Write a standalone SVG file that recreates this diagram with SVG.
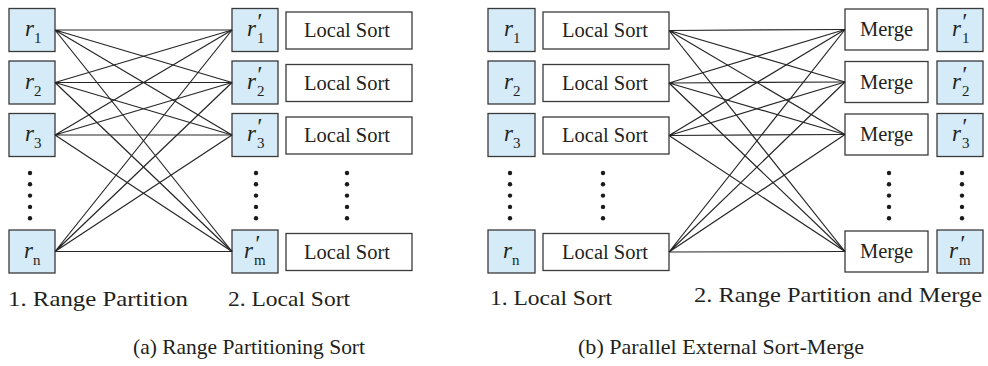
<svg xmlns="http://www.w3.org/2000/svg" width="988" height="366" viewBox="0 0 988 366" font-family="'Liberation Serif', 'Times New Roman', serif">
<style>
.rb{fill:#d5ebf8;stroke:#3a3a3a;stroke-width:1.3}
.wb{fill:#fff;stroke:#3a3a3a;stroke-width:1.3}
.lbl{font-size:20.5px;fill:#231f20}
.it{font-style:italic;font-size:23px;fill:#231f20}
.sub{font-style:normal;font-size:15px}
.cap{font-size:21px;fill:#231f20}
.ln{stroke:#262626;stroke-width:1.2;fill:none}
.dot{fill:#1a1a1a}
</style>
<rect width="988" height="366" fill="#fff"/>

<!-- Panel (a) -->
<g id="a-r1"><rect class="rb" x="9" y="8.5" width="46" height="43"/><text class="it" x="25" y="36">r<tspan class="sub" dy="7">1</tspan></text></g>
<g id="a-r2"><rect class="rb" x="9" y="61" width="46" height="43"/><text class="it" x="25" y="88.5">r<tspan class="sub" dy="7">2</tspan></text></g>
<g id="a-r3"><rect class="rb" x="9" y="113.5" width="46" height="43"/><text class="it" x="25" y="141">r<tspan class="sub" dy="7">3</tspan></text></g>
<g id="a-rn"><rect class="rb" x="9" y="230" width="46" height="43"/><text class="it" x="24" y="257.5">r<tspan class="sub" dy="7">n</tspan></text></g>

<g id="a-rp1"><rect class="rb" x="232" y="8.5" width="46" height="43"/><text class="it" x="247" y="36">r<tspan dy="-7">′</tspan><tspan class="sub" dx="-4" dy="14">1</tspan></text></g>
<g id="a-rp2"><rect class="rb" x="232" y="61" width="46" height="43"/><text class="it" x="247" y="88.5">r<tspan dy="-7">′</tspan><tspan class="sub" dx="-4" dy="14">2</tspan></text></g>
<g id="a-rp3"><rect class="rb" x="232" y="113.5" width="46" height="43"/><text class="it" x="247" y="141">r<tspan dy="-7">′</tspan><tspan class="sub" dx="-4" dy="14">3</tspan></text></g>
<g id="a-rpm"><rect class="rb" x="232" y="230" width="46" height="43"/><text class="it" x="244" y="257.5">r<tspan dx="1" dy="-7">′</tspan><tspan class="sub" dx="-5" dy="14">m</tspan></text></g>

<g id="a-ls1"><rect class="wb" x="286" y="12" width="126" height="37"/><text class="lbl" x="347" y="37" text-anchor="middle">Local Sort</text></g>
<g id="a-ls2"><rect class="wb" x="286" y="64.5" width="126" height="37"/><text class="lbl" x="347" y="89.5" text-anchor="middle">Local Sort</text></g>
<g id="a-ls3"><rect class="wb" x="286" y="117" width="126" height="37"/><text class="lbl" x="347" y="142" text-anchor="middle">Local Sort</text></g>
<g id="a-lsm"><rect class="wb" x="286" y="233.5" width="126" height="37"/><text class="lbl" x="347" y="258.5" text-anchor="middle">Local Sort</text></g>

<g id="a-dots">
<circle class="dot" cx="30" cy="173" r="2.2"/><circle class="dot" cx="30" cy="184.3" r="2.2"/><circle class="dot" cx="30" cy="195.6" r="2.2"/><circle class="dot" cx="30" cy="206.9" r="2.2"/><circle class="dot" cx="30" cy="218.2" r="2.2"/>
<circle class="dot" cx="256" cy="173" r="2.2"/><circle class="dot" cx="256" cy="184.3" r="2.2"/><circle class="dot" cx="256" cy="195.6" r="2.2"/><circle class="dot" cx="256" cy="206.9" r="2.2"/><circle class="dot" cx="256" cy="218.2" r="2.2"/>
<circle class="dot" cx="347" cy="173" r="2.2"/><circle class="dot" cx="347" cy="184.3" r="2.2"/><circle class="dot" cx="347" cy="195.6" r="2.2"/><circle class="dot" cx="347" cy="206.9" r="2.2"/><circle class="dot" cx="347" cy="218.2" r="2.2"/>
</g>

<g id="a-connectors">
<path class="ln" d="M55 30L232 30M55 30L232 82.5M55 30L232 135M55 30L232 251.5"/>
<path class="ln" d="M55 82.5L232 30M55 82.5L232 82.5M55 82.5L232 135M55 82.5L232 251.5"/>
<path class="ln" d="M55 135L232 30M55 135L232 82.5M55 135L232 135M55 135L232 251.5"/>
<path class="ln" d="M55 251.5L232 30M55 251.5L232 82.5M55 251.5L232 135M55 251.5L232 251.5"/>
</g>

<!-- Panel (b) -->
<g id="b-r1"><rect class="rb" x="488" y="8.5" width="47" height="43"/><text class="it" x="504" y="36">r<tspan class="sub" dy="7">1</tspan></text></g>
<g id="b-r2"><rect class="rb" x="488" y="61" width="47" height="43"/><text class="it" x="504" y="88.5">r<tspan class="sub" dy="7">2</tspan></text></g>
<g id="b-r3"><rect class="rb" x="488" y="113.5" width="47" height="43"/><text class="it" x="504" y="141">r<tspan class="sub" dy="7">3</tspan></text></g>
<g id="b-rn"><rect class="rb" x="488" y="230" width="47" height="43"/><text class="it" x="503" y="257.5">r<tspan class="sub" dy="7">n</tspan></text></g>

<g id="b-ls1"><rect class="wb" x="543" y="12" width="126" height="37"/><text class="lbl" x="605" y="37" text-anchor="middle">Local Sort</text></g>
<g id="b-ls2"><rect class="wb" x="543" y="64.5" width="126" height="37"/><text class="lbl" x="605" y="89.5" text-anchor="middle">Local Sort</text></g>
<g id="b-ls3"><rect class="wb" x="543" y="117" width="126" height="37"/><text class="lbl" x="605" y="142" text-anchor="middle">Local Sort</text></g>
<g id="b-lsn"><rect class="wb" x="543" y="233.5" width="126" height="37"/><text class="lbl" x="605" y="258.5" text-anchor="middle">Local Sort</text></g>

<g id="b-m1"><rect class="wb" x="845" y="9" width="83" height="41"/><text class="lbl" x="886.5" y="36" text-anchor="middle">Merge</text></g>
<g id="b-m2"><rect class="wb" x="845" y="61.5" width="83" height="41"/><text class="lbl" x="886.5" y="88.5" text-anchor="middle">Merge</text></g>
<g id="b-m3"><rect class="wb" x="845" y="114" width="83" height="41"/><text class="lbl" x="886.5" y="141" text-anchor="middle">Merge</text></g>
<g id="b-mm"><rect class="wb" x="845" y="231" width="83" height="41"/><text class="lbl" x="886.5" y="258" text-anchor="middle">Merge</text></g>

<g id="b-rp1"><rect class="rb" x="937" y="8.5" width="46" height="43"/><text class="it" x="952" y="36">r<tspan dy="-7">′</tspan><tspan class="sub" dx="-4" dy="14">1</tspan></text></g>
<g id="b-rp2"><rect class="rb" x="937" y="61" width="46" height="43"/><text class="it" x="952" y="88.5">r<tspan dy="-7">′</tspan><tspan class="sub" dx="-4" dy="14">2</tspan></text></g>
<g id="b-rp3"><rect class="rb" x="937" y="113.5" width="46" height="43"/><text class="it" x="952" y="141">r<tspan dy="-7">′</tspan><tspan class="sub" dx="-4" dy="14">3</tspan></text></g>
<g id="b-rpm"><rect class="rb" x="937" y="230" width="46" height="43"/><text class="it" x="949" y="257.5">r<tspan dx="1" dy="-7">′</tspan><tspan class="sub" dx="-5" dy="14">m</tspan></text></g>

<g id="b-dots">
<circle class="dot" cx="510" cy="173" r="2.2"/><circle class="dot" cx="510" cy="184.3" r="2.2"/><circle class="dot" cx="510" cy="195.6" r="2.2"/><circle class="dot" cx="510" cy="206.9" r="2.2"/><circle class="dot" cx="510" cy="218.2" r="2.2"/>
<circle class="dot" cx="603" cy="173" r="2.2"/><circle class="dot" cx="603" cy="184.3" r="2.2"/><circle class="dot" cx="603" cy="195.6" r="2.2"/><circle class="dot" cx="603" cy="206.9" r="2.2"/><circle class="dot" cx="603" cy="218.2" r="2.2"/>
<circle class="dot" cx="889" cy="173" r="2.2"/><circle class="dot" cx="889" cy="184.3" r="2.2"/><circle class="dot" cx="889" cy="195.6" r="2.2"/><circle class="dot" cx="889" cy="206.9" r="2.2"/><circle class="dot" cx="889" cy="218.2" r="2.2"/>
<circle class="dot" cx="962" cy="173" r="2.2"/><circle class="dot" cx="962" cy="184.3" r="2.2"/><circle class="dot" cx="962" cy="195.6" r="2.2"/><circle class="dot" cx="962" cy="206.9" r="2.2"/><circle class="dot" cx="962" cy="218.2" r="2.2"/>
</g>

<g id="b-connectors">
<path class="ln" d="M669 30.5L845 29.5M669 30.5L845 82M669 30.5L845 134.5M669 30.5L845 251.5"/>
<path class="ln" d="M669 83L845 29.5M669 83L845 82M669 83L845 134.5M669 83L845 251.5"/>
<path class="ln" d="M669 135.5L845 29.5M669 135.5L845 82M669 135.5L845 134.5M669 135.5L845 251.5"/>
<path class="ln" d="M669 252L845 29.5M669 252L845 82M669 252L845 134.5M669 252L845 251.5"/>
</g>

<g id="labels">
<text class="cap" x="8" y="306" textLength="180" lengthAdjust="spacingAndGlyphs">1. Range Partition</text>
<text class="cap" x="228" y="306" textLength="122" lengthAdjust="spacingAndGlyphs">2. Local Sort</text>
<text class="cap" x="490" y="305" textLength="122" lengthAdjust="spacingAndGlyphs">1. Local Sort</text>
<text class="cap" x="694" y="302" textLength="288" lengthAdjust="spacingAndGlyphs">2. Range Partition and Merge</text>
<text class="cap" x="133" y="354" textLength="232" lengthAdjust="spacingAndGlyphs">(a) Range Partitioning Sort</text>
<text class="cap" x="578" y="354" textLength="286" lengthAdjust="spacingAndGlyphs">(b) Parallel External Sort-Merge</text>
</g>
</svg>
